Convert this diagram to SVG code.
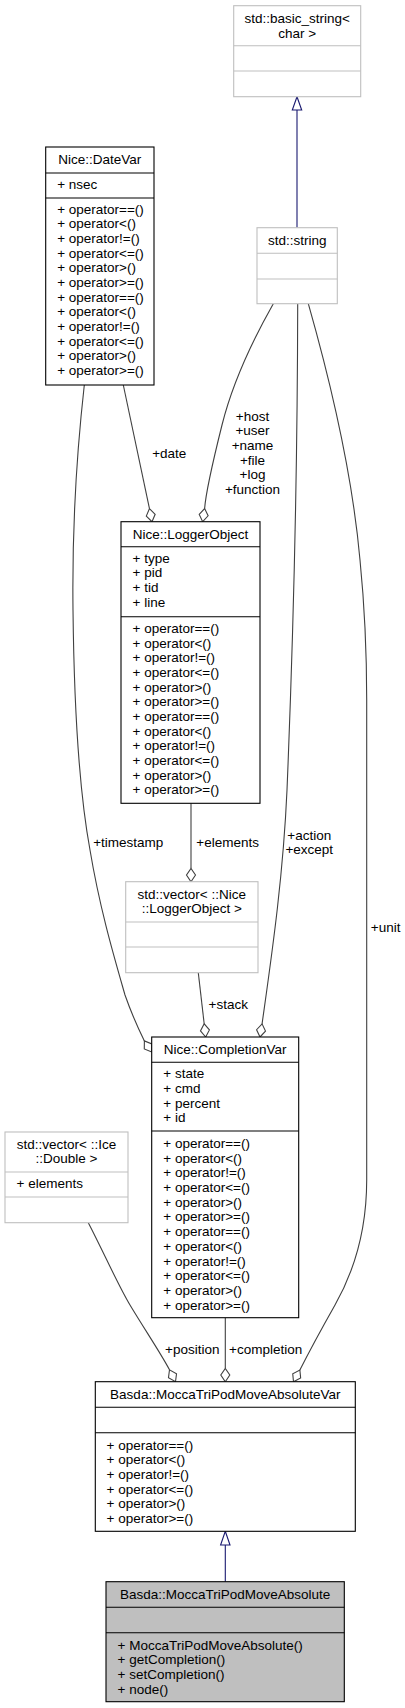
<svg xmlns="http://www.w3.org/2000/svg" width="405" height="1708" viewBox="0 0 405 1708">
<style>
text{font-family:"Liberation Sans",Arial,sans-serif;font-size:13.5px;fill:#000}
.c{text-anchor:middle}
.box{fill:#fff;stroke:#000;stroke-width:1.1}
.gbox{fill:#fff;stroke:#bfbfbf;stroke-width:1.1}
.sel{fill:#bfbfbf;stroke:#000;stroke-width:1.1}
.e{fill:none;stroke:#404040;stroke-width:1.1}
.d{fill:#fff;stroke:#404040;stroke-width:1.1}
.i{fill:none;stroke:#191970;stroke-width:1.1}
.ih{fill:#fff;stroke:#191970;stroke-width:1.1}
</style>
<rect width="405" height="1708" fill="#fff"/>
<g id="edges">
<path class="i" d="M297,227.7 L297,110"/>
<polygon class="ih" points="297,96.7 301.7,110 292.3,110"/>
<path class="i" d="M225.3,1581.7 L225.3,1545"/>
<polygon class="ih" points="225.3,1531.3 230,1545 220.6,1545"/>
<path class="e" d="M123.3,385 L149.46,508.64"/>
<polygon class="d" points="152,521.7 155.15,514.31 149.46,508.64 146.31,516.03"/>
<path class="e" d="M273.3,303.7 C250,345 232,385 222,425 C212,465 206,490 204.63,508.55"/>
<polygon class="d" points="202.7,521.7 208.12,515.77 204.63,508.55 199.22,514.47"/>
<path class="e" d="M191,803.3 L191,868.4"/>
<polygon class="d" points="191,881.7 195.5,875.05 191,868.4 186.5,875.05"/>
<path class="e" d="M198.3,972.7 L204.18,1023.79"/>
<polygon class="d" points="205.7,1037 209.41,1029.89 204.18,1023.79 200.47,1030.91"/>
<path class="e" d="M297.7,303.7 C297.5,450 294,620 287,790 C283,880 271,960 262.07,1023.86"/>
<polygon class="d" points="260,1037 265.49,1031.13 262.07,1023.86 256.59,1029.73"/>
<path class="e" d="M84.3,385 C77,450 72,530 73,610 C74,700 79,790 90,850 C100,910 115,960 125,995 C132,1015 138,1028 144.39,1040.9"/>
<polygon class="d" points="151.7,1052 151.8,1043.97 144.39,1040.9 144.28,1048.93"/>
<path class="e" d="M88.3,1222.7 C105,1255 118,1285 130,1305 C145,1330 160,1352 169.5,1369.8"/>
<polygon class="d" points="175.5,1381.7 176.52,1373.73 169.5,1369.8 168.48,1377.79"/>
<path class="e" d="M225.3,1317.7 L225.3,1368.4"/>
<polygon class="d" points="225.3,1381.7 229.8,1375.05 225.3,1368.4 220.8,1375.05"/>
<path class="e" d="M308.3,303.7 C330,380 352,470 360,560 C365.5,615 366.7,660 366.7,700 L366.7,1180 C366.7,1235 352,1275 335,1305 C322,1328 310,1350 299.88,1370.04"/>
<polygon class="d" points="293.5,1381.7 300.64,1378.03 299.88,1370.04 292.74,1373.71"/>
<text class="c" x="169.3" y="457.5">+date</text>
<text class="c" x="252.5" y="420.5">+host</text>
<text class="c" x="252.5" y="435.2">+user</text>
<text class="c" x="252.5" y="449.8">+name</text>
<text class="c" x="252.5" y="464.5">+file</text>
<text class="c" x="252.5" y="479.2">+log</text>
<text class="c" x="252.5" y="493.8">+function</text>
<text class="c" x="128.3" y="846.5">+timestamp</text>
<text class="c" x="227.7" y="846.5">+elements</text>
<text class="c" x="309.3" y="839.5">+action</text>
<text class="c" x="309.3" y="854">+except</text>
<text class="c" x="385.7" y="931.5">+unit</text>
<text class="c" x="228.3" y="1008.5">+stack</text>
<text class="c" x="192.3" y="1353.8">+position</text>
<text class="c" x="265.7" y="1353.8">+completion</text>
</g>
<g id="basic_string">
<rect class="gbox" x="233.7" y="5.7" width="127" height="91"/>
<path class="gbox" d="M233.7,45.7 H360.7 M233.7,71 H360.7"/>
<text class="c" x="297.2" y="23">std::basic_string&lt;</text>
<text class="c" x="297.2" y="37.7">char &gt;</text>
</g>
<g id="string">
<rect class="gbox" x="257" y="227.7" width="80.3" height="76"/>
<path class="gbox" d="M257,253.3 H337.3 M257,279 H337.3"/>
<text class="c" x="297.2" y="244.5">std::string</text>
</g>
<g id="DateVar">
<rect class="box" x="45.7" y="147" width="108.3" height="238"/>
<path class="box" d="M45.7,173 H154 M45.7,198 H154"/>
<text class="c" x="99.8" y="164">Nice::DateVar</text>
<text x="57.2" y="189">+ nsec</text>
<text x="57.2" y="213.7">+ operator==()</text>
<text x="57.2" y="228.4">+ operator&lt;()</text>
<text x="57.2" y="243">+ operator!=()</text>
<text x="57.2" y="257.7">+ operator&lt;=()</text>
<text x="57.2" y="272.4">+ operator&gt;()</text>
<text x="57.2" y="287.1">+ operator&gt;=()</text>
<text x="57.2" y="301.7">+ operator==()</text>
<text x="57.2" y="316.4">+ operator&lt;()</text>
<text x="57.2" y="331.1">+ operator!=()</text>
<text x="57.2" y="345.7">+ operator&lt;=()</text>
<text x="57.2" y="360.4">+ operator&gt;()</text>
<text x="57.2" y="375.1">+ operator&gt;=()</text>
</g>
<g id="LoggerObject">
<rect class="box" x="121" y="521.7" width="139" height="281.6"/>
<path class="box" d="M121,546.7 H260 M121,616.7 H260"/>
<text class="c" x="190.5" y="538.5">Nice::LoggerObject</text>
<text x="132.5" y="562.7">+ type</text>
<text x="132.5" y="577.4">+ pid</text>
<text x="132.5" y="592">+ tid</text>
<text x="132.5" y="606.7">+ line</text>
<text x="132.5" y="633">+ operator==()</text>
<text x="132.5" y="647.7">+ operator&lt;()</text>
<text x="132.5" y="662.3">+ operator!=()</text>
<text x="132.5" y="677">+ operator&lt;=()</text>
<text x="132.5" y="691.7">+ operator&gt;()</text>
<text x="132.5" y="706.4">+ operator&gt;=()</text>
<text x="132.5" y="721">+ operator==()</text>
<text x="132.5" y="735.7">+ operator&lt;()</text>
<text x="132.5" y="750.4">+ operator!=()</text>
<text x="132.5" y="765">+ operator&lt;=()</text>
<text x="132.5" y="779.7">+ operator&gt;()</text>
<text x="132.5" y="794.4">+ operator&gt;=()</text>
</g>
<g id="vectorLoggerObject">
<rect class="gbox" x="125.7" y="881.7" width="132.3" height="91"/>
<path class="gbox" d="M125.7,922 H258 M125.7,947 H258"/>
<text class="c" x="191.8" y="898.5">std::vector&lt; ::Nice</text>
<text class="c" x="191.8" y="913.3">::LoggerObject &gt;</text>
</g>
<g id="CompletionVar">
<rect class="box" x="151.7" y="1037" width="147" height="280.7"/>
<path class="box" d="M151.7,1062.3 H298.7 M151.7,1131 H298.7"/>
<text class="c" x="225.2" y="1054">Nice::CompletionVar</text>
<text x="163.3" y="1078.3">+ state</text>
<text x="163.3" y="1093">+ cmd</text>
<text x="163.3" y="1107.6">+ percent</text>
<text x="163.3" y="1122.3">+ id</text>
<text x="163.3" y="1147.9">+ operator==()</text>
<text x="163.3" y="1162.6">+ operator&lt;()</text>
<text x="163.3" y="1177.3">+ operator!=()</text>
<text x="163.3" y="1192">+ operator&lt;=()</text>
<text x="163.3" y="1206.7">+ operator&gt;()</text>
<text x="163.3" y="1221.4">+ operator&gt;=()</text>
<text x="163.3" y="1236.1">+ operator==()</text>
<text x="163.3" y="1250.8">+ operator&lt;()</text>
<text x="163.3" y="1265.5">+ operator!=()</text>
<text x="163.3" y="1280.2">+ operator&lt;=()</text>
<text x="163.3" y="1294.9">+ operator&gt;()</text>
<text x="163.3" y="1309.6">+ operator&gt;=()</text>
</g>
<g id="vectorIceDouble">
<rect class="gbox" x="5" y="1132" width="123" height="90.7"/>
<path class="gbox" d="M5,1172 H128 M5,1197 H128"/>
<text class="c" x="66.5" y="1148.5">std::vector&lt; ::Ice</text>
<text class="c" x="66.5" y="1163.2">::Double &gt;</text>
<text x="16.5" y="1188">+ elements</text>
</g>
<g id="MoccaTriPodMoveAbsoluteVar">
<rect class="box" x="95.3" y="1381.7" width="260" height="149.6"/>
<path class="box" d="M95.3,1407.3 H355.3 M95.3,1432.7 H355.3"/>
<text class="c" x="225.3" y="1398.5">Basda::MoccaTriPodMoveAbsoluteVar</text>
<text x="106.5" y="1449.7">+ operator==()</text>
<text x="106.5" y="1464.4">+ operator&lt;()</text>
<text x="106.5" y="1479">+ operator!=()</text>
<text x="106.5" y="1493.7">+ operator&lt;=()</text>
<text x="106.5" y="1508.4">+ operator&gt;()</text>
<text x="106.5" y="1523">+ operator&gt;=()</text>
</g>
<g id="MoccaTriPodMoveAbsolute">
<rect class="sel" x="106" y="1581.7" width="238.3" height="120"/>
<path class="sel" d="M106,1607.3 H344.3 M106,1632.7 H344.3"/>
<text class="c" x="225.2" y="1598.5">Basda::MoccaTriPodMoveAbsolute</text>
<text x="117.5" y="1649.7">+ MoccaTriPodMoveAbsolute()</text>
<text x="117.5" y="1664.4">+ getCompletion()</text>
<text x="117.5" y="1679">+ setCompletion()</text>
<text x="117.5" y="1693.7">+ node()</text>
</g>
</svg>
